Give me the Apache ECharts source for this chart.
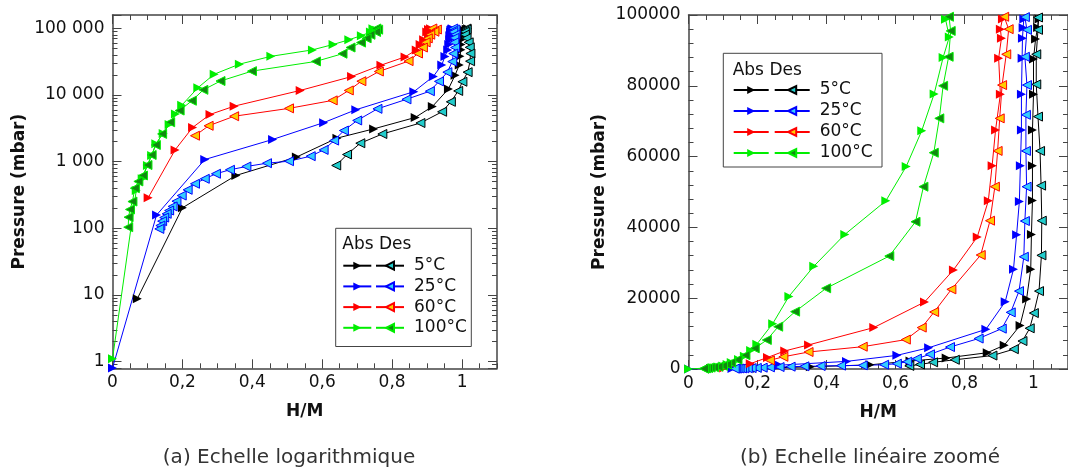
<!DOCTYPE html>
<html>
<head>
<meta charset="utf-8">
<script src="https://cdn.jsdelivr.net/npm/echarts@6/dist/echarts.min.js"></script>
<style>
html, body { margin: 0; padding: 0; background: #fff; }
#myChart { width: 1068px; height: 473px; }
</style>
</head>
<body>
<div id="myChart"></div>
<script>
// data points: [H/M, pressure in mbar]
const abs5 = [[0.071, 8.8], [0.2, 203], [0.353, 620], [0.526, 1170], [0.642, 2250], [0.747, 3100], [0.866, 4600], [0.915, 6700], [0.961, 12300], [0.98, 19800], [0.992, 28200], [0.994, 38000], [0.997, 47600], [0.997, 57400], [0.997, 67500], [1.0, 77600], [1.0, 87600], [1.006, 93200], [1.012, 96500], [1.016, 98900]]
const des5 = [[1.013, 99300], [1.013, 95800], [1.008, 88900], [1.008, 80400], [1.013, 71300], [1.019, 61600], [1.022, 51800], [1.024, 41900], [1.023, 32100], [1.016, 22000], [1.001, 15800], [0.989, 11500], [0.968, 7900], [0.943, 5600], [0.881, 3800], [0.772, 2600], [0.709, 1890], [0.671, 1280], [0.64, 877]]
const abs25 = [[0, 0.8], [0.126, 158], [0.264, 1076], [0.458, 2150], [0.604, 3850], [0.696, 6000], [0.862, 11200], [0.918, 19000], [0.942, 28200], [0.951, 37900], [0.959, 47300], [0.962, 57400], [0.965, 67500], [0.965, 77600], [0.967, 87800], [0.968, 93400], [0.97, 96400], [0.972, 98900]]
const des25 = [[0.975, 99400], [0.981, 95800], [0.975, 88200], [0.981, 80200], [0.978, 71800], [0.978, 61600], [0.98, 51500], [0.975, 41800], [0.972, 31700], [0.958, 22000], [0.934, 16000], [0.908, 11400], [0.841, 8600], [0.758, 6200], [0.7, 4150], [0.662, 2930], [0.634, 2070], [0.604, 1500], [0.567, 1208], [0.505, 1016], [0.442, 948], [0.383, 846], [0.336, 755], [0.296, 658], [0.264, 553], [0.236, 466], [0.215, 378], [0.198, 310], [0.183, 255], [0.172, 213], [0.162, 185], [0.155, 165], [0.148, 145], [0.142, 128], [0.137, 110], [0.134, 98]]
const abs60 = [[0.102, 287], [0.179, 1500], [0.229, 3250], [0.279, 5100], [0.348, 6800], [0.537, 11700], [0.684, 18900], [0.768, 28000], [0.837, 37300], [0.869, 47500], [0.88, 57400], [0.89, 67500], [0.904, 77600], [0.899, 87800], [0.907, 93400], [0.904, 96000], [0.91, 98900]]
const des60 = [[0.915, 99500], [0.928, 96000], [0.921, 88900], [0.909, 80200], [0.902, 70800], [0.896, 61600], [0.888, 51500], [0.874, 41900], [0.847, 32200], [0.762, 22500], [0.712, 16100], [0.676, 11700], [0.63, 8300], [0.505, 6300], [0.348, 4800], [0.275, 3450], [0.236, 2450]]
const abs100 = [[0, 1.1], [0.068, 370], [0.085, 553], [0.1, 875], [0.112, 1240], [0.124, 1850], [0.145, 2650], [0.162, 3600], [0.18, 5200], [0.198, 7000], [0.244, 12800], [0.291, 20500], [0.363, 29000], [0.453, 38000], [0.572, 47500], [0.631, 57200], [0.676, 67300], [0.712, 77700], [0.738, 88000], [0.756, 93800], [0.745, 98800]]
const des100 = [[0.755, 99500], [0.76, 95500], [0.754, 88200], [0.738, 80000], [0.727, 70800], [0.711, 61100], [0.681, 51500], [0.658, 41600], [0.582, 31900], [0.399, 22800], [0.309, 16200], [0.26, 11950], [0.227, 8200], [0.192, 5840], [0.165, 3900], [0.142, 2610], [0.124, 1780], [0.112, 1260], [0.1, 890], [0.087, 620], [0.074, 505], [0.064, 400], [0.057, 252], [0.05, 192], [0.046, 147], [0.045, 104]]

const temps = ['5°C', '25°C', '60°C', '100°C']
const absData = [abs5, abs25, abs60, abs100]
const desData = [des5, des25, des60, des100]
const lineColors = ['#000000', '#0000ff', '#ff0000', '#00ee00']
const desFill = ['#22cccc', '#33ccff', '#ffcc00', '#118811']

const font = 'DejaVu Sans'
const frame = '#444'
const labelStyle = { fontSize: 17, fontFamily: font, color: '#111' }
const nameStyle = { fontSize: 17, fontFamily: font, color: '#111', fontWeight: 'bold' }

let myChart = echarts.init(document.getElementById('myChart'))

// bottom/top x axes: one for long ticks + labels, one for the short ticks
function xAxes(grid) {
    const base = {
        type: 'value', gridIndex: grid, min: 0, max: 1.1,
        splitLine: { show: false },
        axisLine: { onZero: false, lineStyle: { color: frame, width: 1.5 } }
    }
    const longTick = { inside: true, length: 9, lineStyle: { color: frame } }
    const shortTick = { inside: true, length: 5, lineStyle: { color: frame } }
    return [
        {
            ...base, position: 'bottom', interval: 0.2, axisTick: longTick,
            axisLabel: {
                ...labelStyle, margin: 6, showMaxLabel: false,
                formatter: v => String(+v.toFixed(2)).replace('.', ',')
            },
            name: 'H/M', nameLocation: 'middle', nameGap: 35, nameTextStyle: nameStyle
        },
        { ...base, position: 'bottom', interval: 0.05, axisLine: { show: false, onZero: false }, axisTick: shortTick, axisLabel: { show: false } },
        { ...base, position: 'top', interval: 0.2, axisTick: longTick, axisLabel: { show: false } },
        { ...base, position: 'top', interval: 0.05, axisLine: { show: false, onZero: false }, axisTick: shortTick, axisLabel: { show: false } }
    ]
}

function yAxes(grid, log) {
    const base = {
        gridIndex: grid,
        splitLine: { show: false },
        axisLine: { onZero: false, lineStyle: { color: frame, width: 1.5 } },
        axisTick: { inside: true, length: 9, lineStyle: { color: frame } },
        minorTick: { show: true, length: 5, lineStyle: { color: frame } }
    }
    if (log) {
        Object.assign(base, { type: 'log', logBase: 10, min: Math.pow(10, -0.1), max: Math.pow(10, 5.2) })
        base.minorTick.splitNumber = 9
    } else {
        Object.assign(base, { type: 'value', min: 0, max: 100000, interval: 20000 })
        base.minorTick.splitNumber = 5
    }
    const fmt = log
        ? v => String(Math.round(v)).replace(/\B(?=(\d{3})+(?!\d))/g, ' ')
        : v => String(v)
    return [
        {
            ...base, position: 'left',
            axisLabel: { ...labelStyle, margin: 8, showMinLabel: !log, showMaxLabel: !log, formatter: fmt },
            name: 'Pressure (mbar)', nameLocation: 'middle', nameGap: log ? 84 : 80, nameTextStyle: nameStyle
        },
        { ...base, position: 'right', axisLabel: { show: false } }
    ]
}

function seriesFor(xIdx, yIdx) {
    const list = []
    temps.forEach((t, i) => {
        list.push({
            name: 'Abs ' + t, type: 'line', xAxisIndex: xIdx, yAxisIndex: yIdx,
            data: absData[i], symbol: 'triangle', symbolSize: 9, symbolRotate: -90,
            lineStyle: { color: lineColors[i], width: 1 },
            itemStyle: { color: lineColors[i] }
        })
        list.push({
            name: 'Des ' + t, type: 'line', xAxisIndex: xIdx, yAxisIndex: yIdx,
            data: desData[i], symbol: 'triangle', symbolSize: 9, symbolRotate: 90,
            lineStyle: { color: lineColors[i], width: 1 },
            itemStyle: { color: desFill[i], borderColor: lineColors[i], borderWidth: 1 }
        })
    })
    return list
}

// one bordered legend per chart: Abs icon (no text) then Des icon + label, wrapped by width
function legendFor(left, top, padding, itemWidth, itemGap, lineHeight, width) {
    const desText = { ...labelStyle, lineHeight, padding: [0, 0, 0, 5], width: 55, overflow: 'none' }
    const data = []
    temps.forEach(t => data.push({ name: 'Abs ' + t }, { name: 'Des ' + t, textStyle: desText }))
    return {
        left, top, width, padding, orient: 'horizontal', itemWidth, itemHeight: 10, itemGap,
        borderColor: frame, borderWidth: 1, backgroundColor: 'transparent',
        selectedMode: false, data,
        formatter: n => n.startsWith('Abs') ? '' : n.slice(4),
        textStyle: { ...labelStyle, lineHeight, padding: 0 }
    }
}

let option = {
    animation: false,
    grid: [
        { left: 112.5, top: 15, width: 384.5, height: 353.3 },
        { left: 688.5, top: 15, width: 387, height: 354 }
    ],
    xAxis: [...xAxes(0), ...xAxes(1)],
    yAxis: [...yAxes(0, true), ...yAxes(1, false)],
    legend: [
        legendFor(335.7, 228.3, [26.4, 2.3, 7.7, 6.6], 28, -1.3, 22, 140),
        legendFor(723.3, 53.3, [26.2, 7.3, 3.5, 9.4], 35, 0, 21, 160)
    ],
    graphic: [
        { type: 'text', x: 342.3, y: 245, z: 100, style: { text: 'Abs Des', font: '17px "DejaVu Sans"', fill: '#111', verticalAlign: 'middle' } },
        { type: 'text', x: 732.7, y: 71, z: 100, style: { text: 'Abs Des', font: '17px "DejaVu Sans"', fill: '#111', verticalAlign: 'middle' } },
        { type: 'text', x: 289, y: 458, z: 100, style: { text: '(a) Echelle logarithmique', font: '20px "DejaVu Sans"', fill: '#333', align: 'center', verticalAlign: 'middle' } },
        { type: 'text', x: 870, y: 458, z: 100, style: { text: '(b) Echelle linéaire zoomé', font: '20px "DejaVu Sans"', fill: '#333', align: 'center', verticalAlign: 'middle' } }
    ],
    series: [...seriesFor(0, 0), ...seriesFor(4, 2)]
}
myChart.setOption(option)

window.addEventListener('resize', () => {
    myChart.resize()
})
</script>
</body>
</html>
